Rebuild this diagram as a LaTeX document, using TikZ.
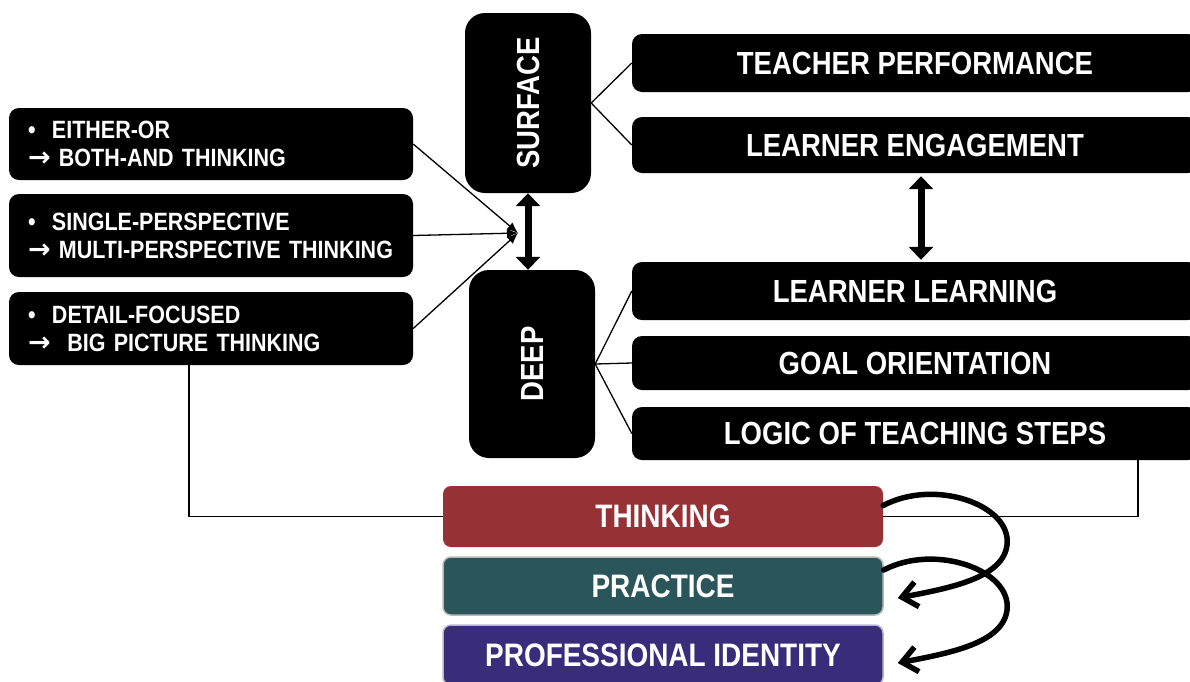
\documentclass[tikz,border=0pt]{standalone}
\usepackage{fontspec}
\setmainfont{Liberation Sans}[FakeStretch=0.86]
\newfontfamily\arrowfont{DejaVu Sans}
\usetikzlibrary{arrows.meta}
\definecolor{thinkred}{HTML}{963236}
\definecolor{practeal}{HTML}{2A555A}
\definecolor{identblue}{HTML}{392C7B}
\newcommand{\bul}{\makebox[24pt][l]{•}}
\newcommand{\arr}{{\arrowfont\fontsize{27}{28}\selectfont →}}
\tikzset{
	blk/.style={fill=black, text=white, rounded corners=10pt, inner sep=0pt, font=\bfseries\fontsize{32}{36}\selectfont},
	lbox/.style={blk, minimum width=404pt, text width=366pt, align=left, font=\bfseries\fontsize{25}{28}\selectfont},
	rbox/.style={blk, minimum width=566pt},
	cbox/.style={blk, rounded corners=8pt, minimum width=440pt, font=\bfseries\fontsize{32.5}{36}\selectfont},
	link/.style={black, line width=1.3pt},
	dbl/.style={{Triangle[length=13pt,width=24pt]}-{Triangle[length=13pt,width=24pt]}, line width=7pt},
	swirl/.style={line width=5.5pt, line cap=round, -{Straight Barb[length=15pt,width=25pt]}},
}
\begin{document}
\begin{tikzpicture}[x=1pt,y=-1pt]
	\path[use as bounding box] (0,0) rectangle (1190,681);
	\clip (0,0) rectangle (1190,681);
	% left column
	\node[lbox, minimum height=72pt] (either) at (211,144) {\bul EITHER-OR\\\arr\ BOTH-AND THINKING};
	\node[lbox, minimum height=83pt] (single) at (211,235.5) {\bul SINGLE-PERSPECTIVE\\\arr\ MULTI-PERSPECTIVE THINKING};
	\node[lbox, minimum height=73pt] (detail) at (211,328.5) {\bul DETAIL-FOCUSED\\\arr\ \ BIG PICTURE THINKING};
	% middle column
	\node[blk, rounded corners=20pt, rotate=90, minimum width=180pt, minimum height=126pt] (surface) at (528,103) {SURFACE};
	\node[blk, rounded corners=20pt, rotate=90, minimum width=188pt, minimum height=126pt] (deep) at (532,364) {DEEP};
	% right column
	\node[rbox, minimum height=58pt] (teacher) at (915,63) {TEACHER PERFORMANCE};
	\node[rbox, minimum height=56pt] (engage) at (915,145) {LEARNER ENGAGEMENT};
	\node[rbox, minimum height=58pt] (llearn) at (915,291) {LEARNER LEARNING};
	\node[rbox, minimum height=54pt] (goal) at (915,363) {GOAL ORIENTATION};
	\node[rbox, minimum height=53pt] (logic) at (915,433.5) {LOGIC OF TEACHING STEPS};
	% bottom stack
	\node[cbox, fill=thinkred, minimum height=61pt] (thinking) at (663,516.5) {THINKING};
	\node[cbox, fill=practeal, draw=gray!55, line width=1.5pt, minimum height=58pt] (practice) at (663,586) {PRACTICE};
	\node[cbox, fill=identblue, draw=gray!55, line width=1.5pt, minimum height=60pt] (identity) at (663,655) {PROFESSIONAL IDENTITY};
	% connectors
	\coordinate (meet) at (518,233);
	\draw[link, -{Latex[length=11pt,width=9pt]}] (either.east) -- (meet);
	\draw[link, -{Latex[length=11pt,width=9pt]}] (single.east) -- (meet);
	\draw[link, -{Latex[length=11pt,width=9pt]}] (detail.east) -- (meet);
	\draw[dbl] (surface.west) -- (surface.west |- deep.east);
	\draw[link] (surface.south) -- (teacher.west);
	\draw[link] (surface.south) -- (engage.west);
	\draw[link] (deep.south) -- (llearn.west);
	\draw[link] (deep.south) -- (goal.west);
	\draw[link] (deep.south) -- (logic.west);
	\draw[dbl, shorten <=3pt, shorten >=2pt] ([xshift=6pt]engage.south) -- ([xshift=6pt]llearn.north);
	\draw[link] ([xshift=-22pt]detail.south) |- (thinking.west);
	\draw[link] ([xshift=223pt]logic.south) |- (thinking.east);
	\draw[swirl] ([yshift=11pt]thinking.east) .. controls (935,478) and (1012,505) .. (1007,545) .. controls (1003,578) and (950,588) .. ([xshift=14pt,yshift=-12pt]practice.east);
	\draw[swirl] ([yshift=16pt]practice.east) .. controls (935,543) and (1012,570) .. (1007,610) .. controls (1003,643) and (950,653) .. ([xshift=14pt,yshift=-8pt]identity.east);
\end{tikzpicture}
\end{document}
